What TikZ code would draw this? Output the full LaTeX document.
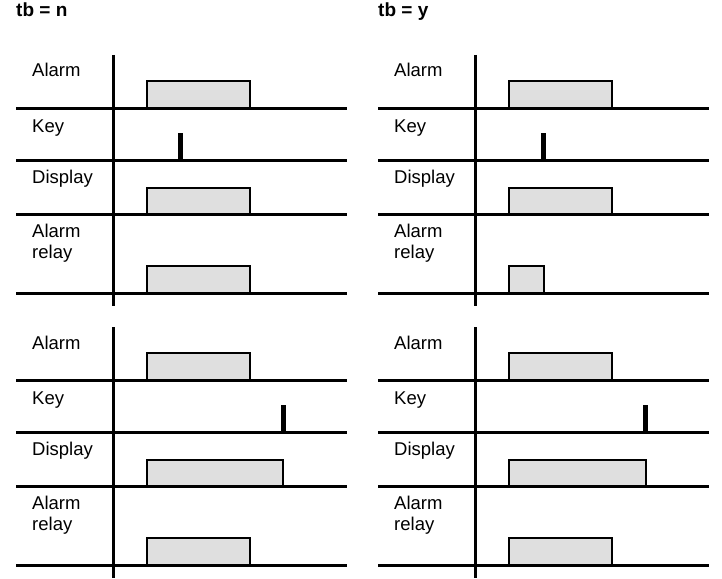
\documentclass[tikz,border=0pt]{standalone}
\usepackage{fontspec}
\setmainfont{Liberation Sans}
\definecolor{barfill}{HTML}{DFDFDF}
\tikzset{
  baseline rule/.style={line width=3pt},
  axis rule/.style={line width=3pt},
  sigbar/.style={draw=black, fill=barfill, line width=2.5pt},
  keypulse/.style={line width=5pt},
  lbl/.style={anchor=base west, inner sep=0pt, font=\fontsize{18.5}{21}\selectfont},
  ttl/.style={anchor=base west, inner sep=0pt, font=\bfseries\fontsize{19}{22}\selectfont},
}
\newcommand\timingpanel[6]{%
  \begin{scope}[shift={(#1,#2)}]
    % bars
    \fill[barfill] (147,81) rectangle (250,108);
    \draw[sigbar] (147,108) -- (147,81) -- (250,81) -- (250,108);
    \fill[barfill] (147,188) rectangle (#4,214);
    \draw[sigbar] (147,214) -- (147,188) -- (#4,188) -- (#4,214);
    \fill[barfill] (147,266) rectangle (#5,293);
    \draw[sigbar] (147,293) -- (147,266) -- (#5,266) -- (#5,293);
    % key pulse
    \coordinate (#6-kt) at (#3,133);
    \coordinate (#6-kb) at (#3,160);
    \draw[keypulse] (#6-kt) -- (#6-kb);
    % rules
    \coordinate (#6-a0) at (16,108);  \coordinate (#6-a1) at (347,108);
    \coordinate (#6-b0) at (16,160);  \coordinate (#6-b1) at (347,160);
    \coordinate (#6-c0) at (16,214);  \coordinate (#6-c1) at (347,214);
    \coordinate (#6-d0) at (16,293);  \coordinate (#6-d1) at (347,293);
    \draw[baseline rule] (#6-a0) -- (#6-a1);
    \draw[baseline rule] (#6-b0) -- (#6-b1);
    \draw[baseline rule] (#6-c0) -- (#6-c1);
    \draw[baseline rule] (#6-d0) -- (#6-d1);
    \coordinate (#6-vt) at (113,55);
    \coordinate (#6-vb) at (113,306);
    \draw[axis rule] (#6-vt) -- (#6-vb);
    % labels
    \node[lbl] (#6-alarm) at (32,77) {Alarm};
    \node[lbl] (#6-key) at (32,132) {Key};
    \node[lbl] (#6-display) at (32,183) {Display};
    \node[lbl] (#6-alarm2) at (32,237) {Alarm};
    \node[lbl] (#6-relay) at (32,258) {relay};
  \end{scope}}
\begin{document}
\begin{tikzpicture}[x=1pt,y=-1pt]
  \useasboundingbox (0,0) rectangle (722,578);
  \node[ttl] (tn) at (16,17) {tb = n};
  \node[ttl] (ty) at (378,17) {tb = y};
  \timingpanel{0}{0}{180}{250}{250}{tl}
  \timingpanel{362}{0}{181}{250}{182}{tr}
  \timingpanel{0}{272}{283}{283}{250}{bl}
  \timingpanel{362}{272}{283}{284}{250}{br}
\end{tikzpicture}
\end{document}
